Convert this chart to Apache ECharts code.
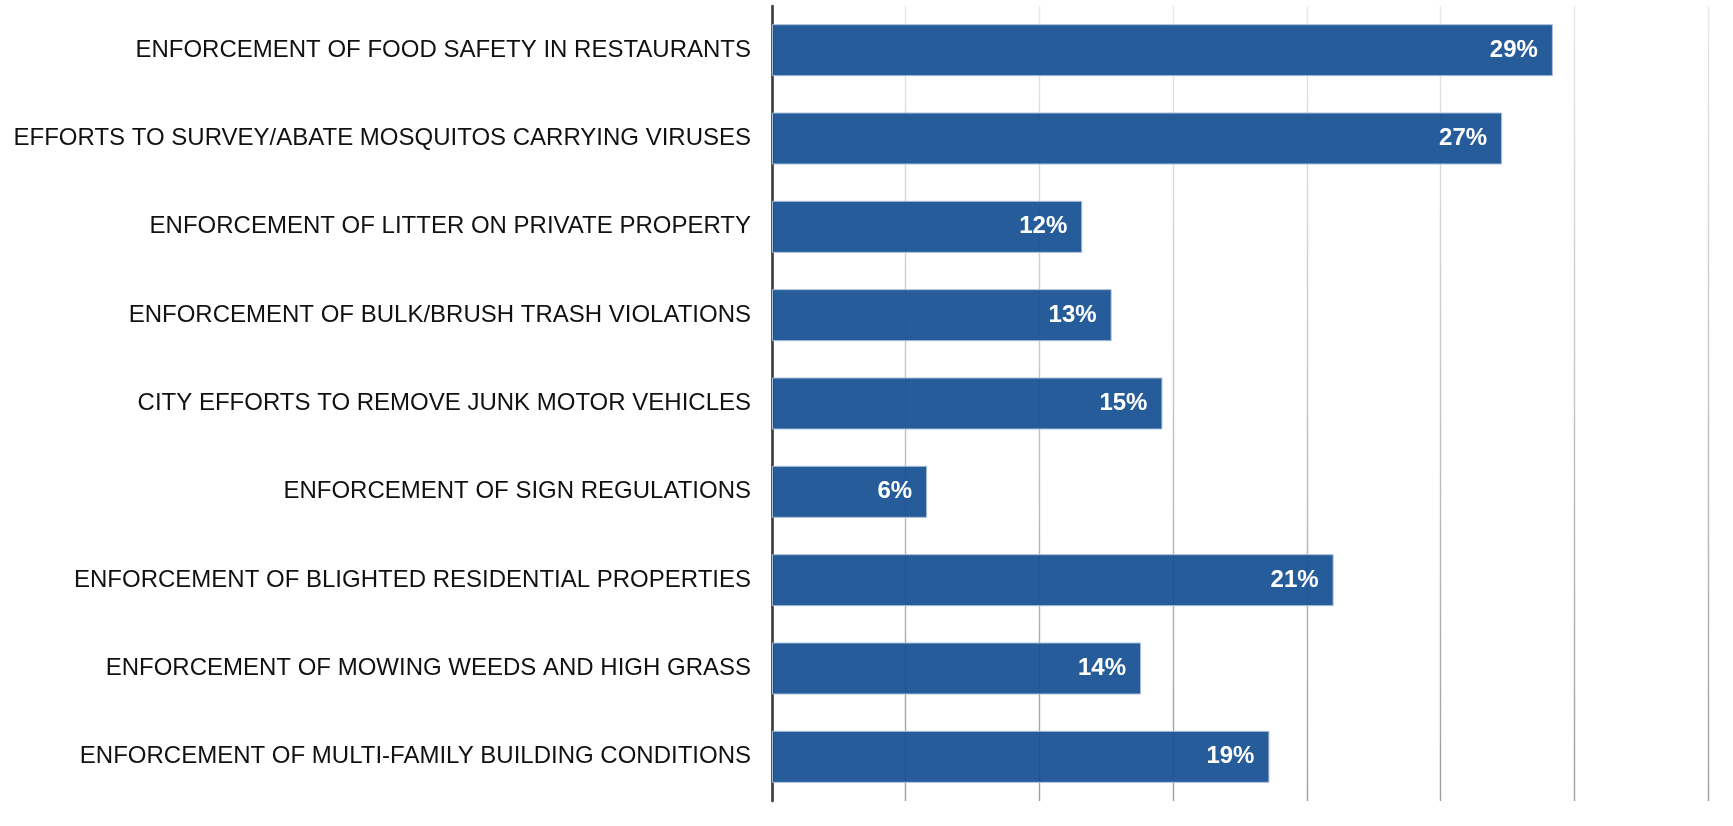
<!DOCTYPE html>
<html>
<head>
<meta charset="utf-8">
<script src="https://cdn.jsdelivr.net/npm/echarts@6/dist/echarts.min.js"></script>
<style>
html,body{margin:0;padding:0;background:#fff;}
#chart{width:1733px;height:826px;}
</style>
</head>
<body>
<div id="chart"></div>
<script>
const categories = [
  "ENFORCEMENT OF FOOD SAFETY IN RESTAURANTS",
  "EFFORTS TO SURVEY/ABATE MOSQUITOS CARRYING VIRUSES",
  "ENFORCEMENT OF LITTER ON PRIVATE PROPERTY",
  "ENFORCEMENT OF BULK/BRUSH TRASH VIOLATIONS",
  "CITY EFFORTS TO REMOVE JUNK MOTOR VEHICLES",
  "ENFORCEMENT OF SIGN REGULATIONS",
  "ENFORCEMENT OF BLIGHTED RESIDENTIAL PROPERTIES",
  "ENFORCEMENT OF MOWING WEEDS AND HIGH GRASS",
  "ENFORCEMENT OF MULTI-FAMILY BUILDING CONDITIONS"
];
const values = [29.2, 27.3, 11.6, 12.7, 14.6, 5.8, 21.0, 13.8, 18.6];
const valueLabels = ["29%", "27%", "12%", "13%", "15%", "6%", "21%", "14%", "19%"];

const chart = echarts.init(document.getElementById('chart'));
const gridGradient = new echarts.graphic.LinearGradient(0, 0, 0, 1, [
  {offset: 0, color: '#e8e8e8'},
  {offset: 1, color: '#9e9e9e'}
]);
const FONT = "'Liberation Sans', Arial, sans-serif";
chart.setOption({
  animation: false,
  backgroundColor: '#ffffff',
  grid: {left: 772, right: 25, top: 6, bottom: 25, containLabel: false},
  xAxis: {
    type: 'value',
    min: 0, max: 35, interval: 5,
    axisLabel: {show: false},
    axisLine: {show: false},
    axisTick: {show: false},
    splitLine: {show: true, lineStyle: {color: gridGradient, width: 1.4}}
  },
  yAxis: {
    type: 'category',
    inverse: true,
    data: categories,
    axisTick: {show: false},
    axisLine: {show: true, lineStyle: {color: '#404040', width: 2.7}},
    axisLabel: {
      margin: 21,
      fontFamily: FONT,
      fontSize: 24,
      color: '#111111'
    }
  },
  series: [{
    type: 'bar',
    data: values,
    barWidth: 52,
    itemStyle: {
      color: 'rgba(22,80,146,0.93)',
      borderColor: '#a9bedb',
      borderWidth: 1
    },
    label: {
      show: true,
      position: 'insideRight',
      distance: 15,
      formatter: p => valueLabels[p.dataIndex],
      fontFamily: FONT,
      fontWeight: 'bold',
      fontSize: 24,
      color: '#ffffff'
    }
  }]
});
</script>
</body>
</html>
